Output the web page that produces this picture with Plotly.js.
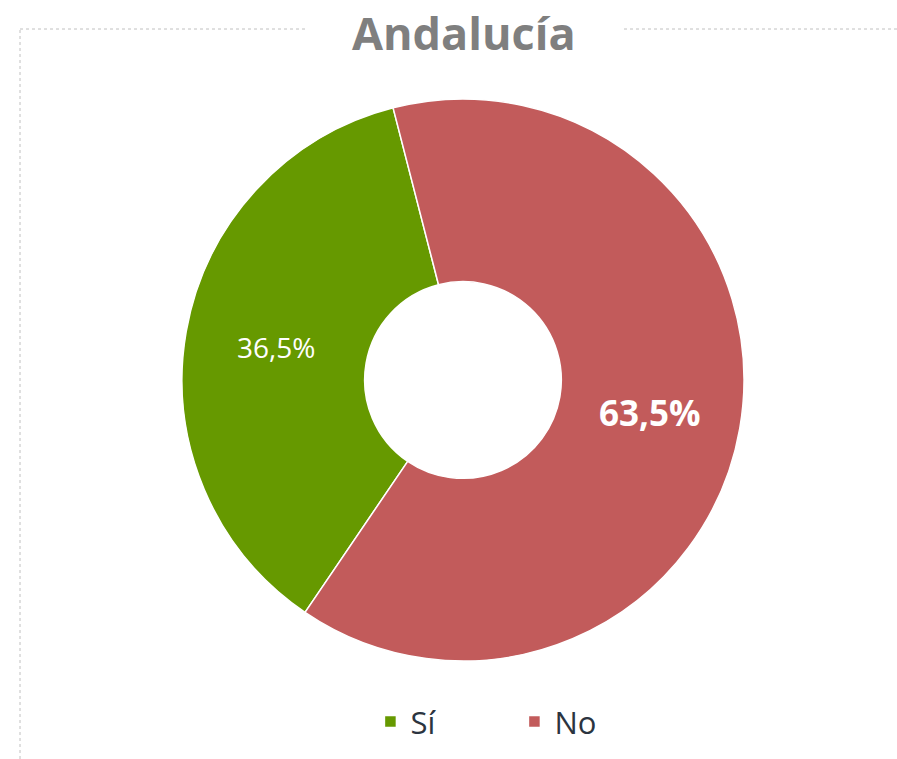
<!DOCTYPE html>
<html>
<head>
<meta charset="utf-8">
<script src="https://cdn.plot.ly/plotly-3.0.1.min.js"></script>
<style>html,body{margin:0;padding:0;background:#fff;}#chart{width:897px;height:759px;}</style>
</head>
<body>
<div id="chart"></div>
<script>
const categories = ['Sí', 'No'];
const values = [36.5, 63.5];
const sliceColors = ['#669900', '#C25B5B'];
const chartTitle = 'Andalucía';

const trace = {
  type: 'pie',
  labels: categories,
  values: values,
  sort: false,
  direction: 'clockwise',
  rotation: 214.2,
  hole: 0.35,
  marker: { colors: sliceColors, line: { color: '#ffffff', width: 1.5 } },
  textinfo: 'percent',
  texttemplate: ['%{percent:.1%}', '<b>%{percent:.1%}</b>'],
  textposition: 'inside',
  insidetextorientation: 'horizontal',
  insidetextfont: { color: '#ffffff', size: [28, 35], family: 'Open Sans, sans-serif' },
  hoverinfo: 'label+percent',
  domain: { x: [0.2029, 0.8294], y: [0.1278, 0.8709] }
};

const layout = {
  width: 897,
  height: 759,
  margin: { l: 0, r: 0, t: 0, b: 0 },
  paper_bgcolor: '#ffffff',
  separators: ',.',
  showlegend: true,
  title: {
    text: '<b>' + chartTitle + '</b>',
    font: { family: 'Open Sans, sans-serif', size: 45, color: '#7f7f7f' },
    x: 0.517, xanchor: 'center', y: 0.955, yanchor: 'middle'
  },
  legend: {
    orientation: 'h',
    x: 0.5735, xanchor: 'center',
    y: 0.049, yanchor: 'middle',
    entrywidth: 99, entrywidthmode: 'pixels',
    font: { family: 'Open Sans, sans-serif', size: 31, color: '#2b3440' },
    traceorder: 'normal'
  },
  shapes: [
    { type: 'line', xref: 'paper', yref: 'paper', x0: 20/897, x1: 305/897, y0: 1 - 29/759, y1: 1 - 29/759, line: { color: '#c0c0c0', width: 1, dash: 'dot' } },
    { type: 'line', xref: 'paper', yref: 'paper', x0: 624/897, x1: 1, y0: 1 - 29/759, y1: 1 - 29/759, line: { color: '#c0c0c0', width: 1, dash: 'dot' } },
    { type: 'line', xref: 'paper', yref: 'paper', x0: 20/897, x1: 20/897, y0: 0, y1: 1 - 29/759, line: { color: '#c0c0c0', width: 1, dash: 'dot' } }
  ]
};

Plotly.newPlot('chart', [trace], layout, { displayModeBar: false, staticPlot: true });
</script>
</body>
</html>
